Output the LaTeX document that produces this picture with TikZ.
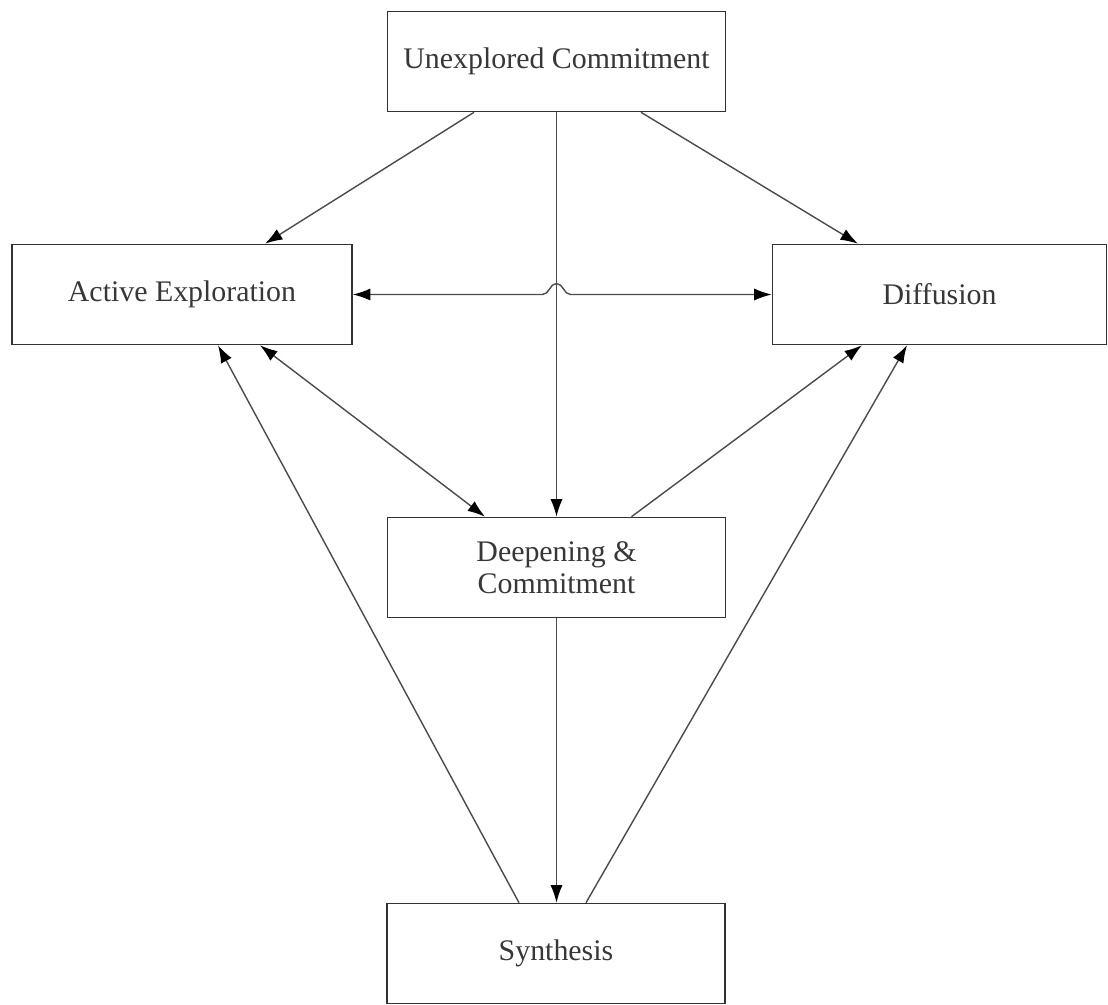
\documentclass[tikz,border=0pt]{standalone}
\usepackage{fontspec}
\setmainfont{Liberation Serif}
\usepackage{tikz}
\usetikzlibrary{arrows.meta,positioning,calc}
\definecolor{ink}{RGB}{55,55,55}
\definecolor{edge}{RGB}{50,50,50}
\definecolor{wire}{RGB}{75,75,75}

\begin{document}
\begin{tikzpicture}[
  font=\fontsize{17}{18.5}\selectfont,
  box/.style={draw=edge, line width=0.9pt, minimum width=6.76cm, minimum height=2cm, align=center, text=ink, inner sep=2pt},
  ar/.style={-{Latex[length=3.5mm,width=2.4mm,color=black]}, line width=0.8pt, draw=wire},
  biar/.style={{Latex[length=3.5mm,width=2.4mm,color=black]}-{Latex[length=3.5mm,width=2.4mm,color=black]}, line width=0.8pt, draw=wire}
]
\useasboundingbox (0,0) rectangle (22.16,-20.08);
\node[box] (unexp) at (11.13,-1.23) {Unexplored Commitment};
\node[box, minimum width=6.8cm] (active) at (3.64,-5.89) {Active Exploration};
\node[box, minimum width=6.68cm] (diff) at (18.79,-5.89) {Diffusion};
\node[box] (deep) at (11.13,-11.35) {Deepening \&\\Commitment};
\node[box] (synth) at (11.12,-19.07) {Synthesis};

\coordinate (cross) at (active.east -| unexp.south);

\draw[ar] ([xshift=-1.65cm]unexp.south) -- ([xshift=1.66cm]active.north);
\draw[ar] ([xshift=1.69cm]unexp.south) -- ([xshift=-1.63cm]diff.north);
\draw[ar] (unexp.south) -- (unexp.south |- deep.north);
\draw[biar] (active.east) -- ([xshift=-2.8mm]cross) to[out=0,in=180] ([yshift=2.2mm]cross) to[out=0,in=180] ([xshift=2.8mm]cross) -- (diff.west);
\draw[biar] ([xshift=1.56cm]active.south) -- ([xshift=-1.43cm]deep.north);
\draw[ar] ([xshift=1.5cm]deep.north) -- ([xshift=-1.55cm]diff.south);
\draw[ar] (deep.south) -- (deep.south |- synth.north);
\draw[ar] ([xshift=-0.74cm]synth.north) -- ([xshift=0.72cm]active.south);
\draw[ar] ([xshift=0.6cm]synth.north) -- ([xshift=-0.65cm]diff.south);
\end{tikzpicture}
\end{document}
